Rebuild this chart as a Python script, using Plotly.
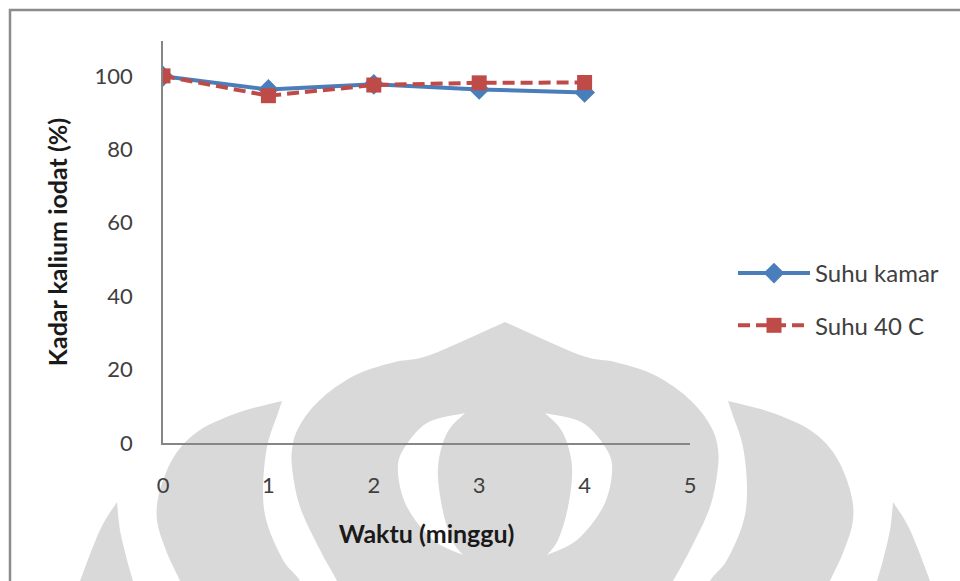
import plotly.graph_objects as go

# ---- data -------------------------------------------------------------
minggu = [0, 1, 2, 3, 4]
suhu_kamar = [99.9, 96.3, 97.7, 96.3, 95.5]
suhu_40c = [100.0, 94.6, 97.5, 98.1, 98.2]

x_ticks = [0, 1, 2, 3, 4, 5]
y_ticks = [0, 20, 40, 60, 80, 100]

# ---- page geometry (pixels) ------------------------------------------
W, H = 960, 581
L, R, T, B = 163, 690, 41, 443          # plot area edges
PW, PH = R - L, B - T

FONT = "Lato, 'Open Sans', sans-serif"
WM = "#d9d9d9"                          # watermark grey


def px(x, y):
    """page pixel -> paper coordinates"""
    return (x - L) / PW, (B - y) / PH


def catmull(pts, n=8):
    """smooth open polyline through the given points"""
    if len(pts) < 3:
        return list(pts)
    ext = [pts[0]] + list(pts) + [pts[-1]]
    out = []
    for i in range(1, len(ext) - 2):
        p0, p1, p2, p3 = ext[i - 1], ext[i], ext[i + 1], ext[i + 2]
        for k in range(n):
            t = k / n
            t2, t3 = t * t, t * t * t
            out.append(tuple(
                0.5 * (2 * p1[j] + (-p0[j] + p2[j]) * t
                       + (2 * p0[j] - 5 * p1[j] + 4 * p2[j] - p3[j]) * t2
                       + (-p0[j] + 3 * p1[j] - 3 * p2[j] + p3[j]) * t3)
                for j in range(2)))
    out.append(tuple(pts[-1]))
    return out


def path(*edges):
    pts = []
    for e in edges:
        pts += catmull(e)
    s = "M " + " L ".join("%.5f,%.5f" % px(x, y) for x, y in pts) + " Z"
    return s


def mirror(pts, c=505):
    return [(2 * c - x, y) for x, y in pts]


def rev(pts):
    return list(reversed(pts))


# watermark outlines (left halves / left-side pieces, mirrored about x=505)
dome_left = [(505, 322), (430, 355), (395, 362), (360, 373), (333, 389),
             (313, 407), (300, 425), (293, 443), (292, 467), (300, 507),
             (320, 550), (337, 581), (345, 600)]
cres_outer = [(465, 413), (427, 423), (403, 450), (398, 473), (407, 507),
              (433, 540), (463, 555)]
cres_inner = [(463, 555), (452, 540), (442, 507), (438, 467), (447, 433),
              (465, 413)]
petal_outer = [(282, 401), (240, 412), (200, 430), (175, 455), (160, 490),
               (157, 520), (167, 553), (180, 581), (186, 600)]
petal_inner = [(304, 600), (300, 581), (283, 560), (267, 523), (263, 490),
               (267, 447), (278, 413), (282, 401)]
spike_left = [(117, 502), (100, 530), (80, 581), (74, 600)]
spike_right = [(138, 600), (133, 581), (127, 560), (120, 530), (117, 502)]

shapes = []


def add(d, color):
    shapes.append(dict(type="path", path=d, xref="paper", yref="paper",
                       fillcolor=color, line=dict(width=0), layer="below"))


add(path(dome_left, rev(mirror(dome_left))[1:]), WM)
add(path(cres_outer, cres_inner), "white")
add(path(mirror(cres_outer), mirror(cres_inner)), "white")
add(path(petal_outer, petal_inner), WM)
add(path(mirror(petal_outer), mirror(petal_inner)), WM)
add(path(spike_left, spike_right), WM)
add(path(mirror(spike_left), mirror(spike_right)), WM)

# frame around the chart
x0, y0 = px(10, 10)
x1, y1 = px(975, 600)
shapes.append(dict(type="rect", xref="paper", yref="paper",
                   x0=x0, y0=y1, x1=x1, y1=y0,
                   line=dict(color="#8c8c8c", width=2.5), layer="below"))

fig = go.Figure()
fig.add_trace(go.Scatter(
    x=minggu, y=suhu_kamar, name="Suhu kamar", mode="lines+markers",
    legendgroup="a",
    line=dict(color="#4a7ebb", width=4),
    marker=dict(symbol="diamond", size=16, color="#4a7ebb"),
))
fig.add_trace(go.Scatter(
    x=minggu, y=suhu_40c, name="Suhu 40 C", mode="lines+markers",
    legendgroup="b",
    line=dict(color="#be4b48", width=4, dash="12px,6px"),
    marker=dict(symbol="square", size=15, color="#be4b48"),
))

lx, ly = px(733, 299.5)
fig.update_layout(
    width=W, height=H,
    margin=dict(l=L, r=W - R, t=T, b=H - B, pad=0),
    paper_bgcolor="white", plot_bgcolor="rgba(0,0,0,0)",
    font=dict(family=FONT, size=22, color="#404040"),
    shapes=shapes,
    showlegend=True,
    legend=dict(x=lx, y=ly, xanchor="left", yanchor="middle",
                bgcolor="rgba(0,0,0,0)", itemwidth=72,
                traceorder="grouped", tracegroupgap=18,
                font=dict(size=24, color="#404040")),
    xaxis=dict(range=[0, 5], tickvals=x_ticks, showgrid=False, zeroline=False,
               showline=True, linecolor="#868686", linewidth=1.5,
               ticks="", ticklabelstandoff=22,
               title=dict(text="<b>Waktu (minggu)</b>", standoff=28,
                          font=dict(size=25, color="#1a1a1a"))),
    yaxis=dict(range=[0, 109.5], tickvals=y_ticks, showgrid=False, zeroline=False,
               showline=True, linecolor="#868686", linewidth=1.5,
               ticks="", ticklabelstandoff=24,
               title=dict(text="<b>Kadar kalium iodat (%)</b>", standoff=20,
                          font=dict(size=25, color="#1a1a1a"))),
)

fig.write_html("out.html")
